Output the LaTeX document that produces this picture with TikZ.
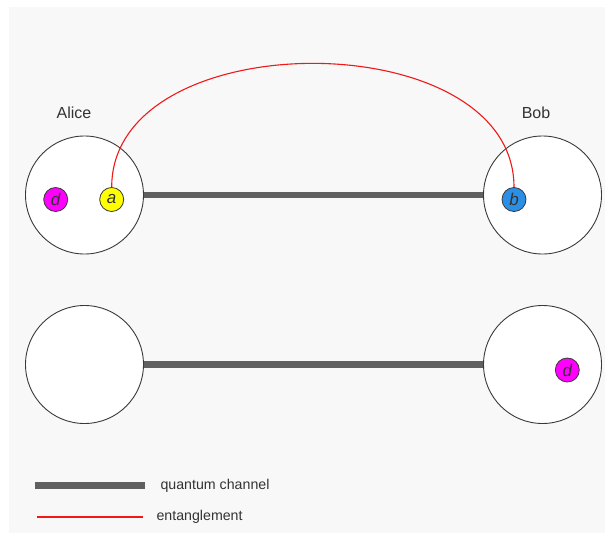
\documentclass[tikz,border=0pt]{standalone}
\usepackage{fontspec}
\setmainfont{Liberation Sans}
\usetikzlibrary{calc}
\definecolor{bgc}{HTML}{F8F8F8}
\definecolor{chan}{HTML}{606060}
\definecolor{edge}{HTML}{3A3A3A}
\definecolor{qblue}{HTML}{2B8FE6}
\definecolor{qred}{HTML}{F01818}
\definecolor{qmag}{HTML}{FF00FF}
\definecolor{qyel}{HTML}{FFFF00}
\begin{document}
\begin{tikzpicture}[x=1pt,y=-1pt,
  party/.style={circle,draw=edge,line width=0.9pt,fill=white,minimum size=118pt,inner sep=0pt},
  qubit/.style={circle,draw=edge,line width=0.8pt,minimum size=24pt,inner sep=0pt,font=\fontsize{17}{17}\selectfont\itshape,text=black!80},
  chanline/.style={draw=chan,line width=6.5pt},
  entline/.style={draw=qred,line width=1.1pt},
  lbl/.style={font=\fontsize{16}{18}\selectfont,text=black!80},
  leg/.style={font=\fontsize{14.2}{16}\selectfont,text=black!80,anchor=west}]
\useasboundingbox (0,0) rectangle (605,533);
\fill[white] (0,0) rectangle (605,533);
\fill[bgc] (9,7) rectangle (605,533);
% parties
\node[party] (A1) at (84.5,195) {};
\node[party] (B1) at (542.5,195) {};
\node[party] (A2) at (84.5,364.5) {};
\node[party] (B2) at (542.5,364.5) {};
\node[lbl] (alice) at (74,113) {Alice};
\node[lbl] (bob) at (536,113) {Bob};
% channels
\draw[chanline] (A1.east) -- (B1.west);
\draw[chanline] (A2.east) -- (B2.west);
% qubits
\node[qubit,fill=qmag] (d1) at (55.7,199.5) {d};
\node[qubit,fill=qyel] (a) at (111.7,199.5) {a};
\node[qubit,fill=qblue] (b) at (514,199.5) {b};
\node[qubit,fill=qmag] (d2) at (567.3,370) {d};
% entanglement
\draw[entline] (a.north) .. controls ($(a.north)+(0,-165)$) and ($(b.north)+(0,-165)$) .. (b.north);
% legend
\coordinate (l1a) at (35,485.5);
\coordinate (l1b) at (145,485.5);
\coordinate (l2a) at (37,517);
\coordinate (l2b) at (143,517);
\draw[chanline] (l1a) -- (l1b);
\draw[entline] (l2a) -- (l2b);
\node[leg] (t1) at (157,486) {quantum channel};
\node[leg] (t2) at (153,517) {entanglement};
\end{tikzpicture}
\end{document}
